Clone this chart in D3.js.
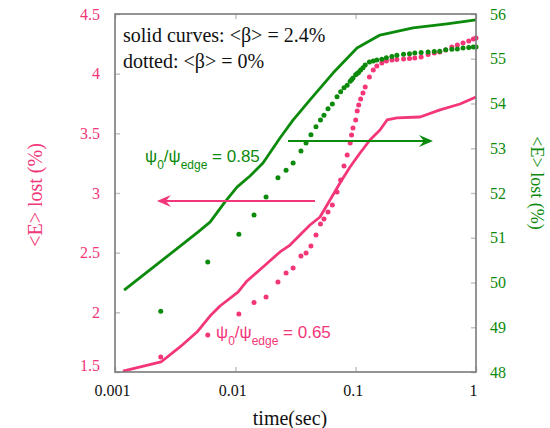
<!DOCTYPE html>
<html>
<head>
<meta charset="utf-8">
<script src="https://cdn.jsdelivr.net/npm/d3@7"></script>
<style>
  body { margin: 0; background: #fff; }
  svg text { font-family: "Liberation Serif", "Times New Roman", serif; }
</style>
</head>
<body>
<svg id="chart" width="550" height="428"></svg>
<script>
// tick values
const timeTicks = [0.001, 0.01, 0.1, 1];
const timeLabels = ["0.001", "0.01", "0.1", "1"];
const leftTicks = [1.5, 2, 2.5, 3, 3.5, 4, 4.5];
const rightTicks = [48, 49, 50, 51, 52, 53, 54, 55, 56];

// solid curves, <beta> = 2.4%
const tGreenSolid = [0.00119, 0.00237, 0.0048, 0.00616, 0.00821, 0.01032, 0.01324, 0.01698,
  0.0235, 0.03015, 0.04174, 0.06481, 0.1026, 0.1593, 0.2996, 0.5743, 1.0];
const eGreenSolid = [49.83, 50.46, 51.11, 51.35, 51.80, 52.13, 52.38, 52.67,
  53.23, 53.63, 54.08, 54.68, 55.24, 55.53, 55.69, 55.78, 55.87];

const tPinkSolid = [0.001165, 0.00241, 0.00347, 0.0048, 0.00616, 0.00746, 0.01052, 0.0125,
  0.01698, 0.0235, 0.02847, 0.03446, 0.04174, 0.05053, 0.06119, 0.0741, 0.08974, 0.1087,
  0.1315, 0.1593, 0.1822, 0.2206, 0.3425, 0.5023, 0.7366, 1.0];
const ePinkSolid = [1.508, 1.584, 1.710, 1.835, 1.969, 2.053, 2.170, 2.263,
  2.380, 2.506, 2.564, 2.648, 2.732, 2.799, 2.941, 3.084, 3.218, 3.335,
  3.444, 3.528, 3.612, 3.629, 3.637, 3.696, 3.746, 3.805];

// dotted, <beta> = 0%
const tDotted = [0.0024, 0.0059, 0.0107, 0.0143, 0.018, 0.0226, 0.0264, 0.0302, 0.0351, 0.0387,
  0.0425, 0.0468, 0.051, 0.0545, 0.0589, 0.064, 0.07, 0.075, 0.08, 0.085,
  0.09, 0.0925, 0.095, 0.1, 0.103, 0.106, 0.11, 0.115, 0.12, 0.13,
  0.14, 0.15, 0.165, 0.18, 0.2, 0.22, 0.25, 0.28, 0.31, 0.35,
  0.4, 0.45, 0.5, 0.56, 0.63, 0.7, 0.78, 0.87, 0.95, 1.0];
const eGreenDotted = [49.36, 50.46, 51.08, 51.51, 51.91, 52.34, 52.51, 52.67, 52.94, 53.12,
  53.30, 53.48, 53.63, 53.74, 53.88, 53.99, 54.15, 54.26, 54.35, 54.41,
  54.50, 54.53, 54.57, 54.64, 54.67, 54.70, 54.75, 54.80, 54.86, 54.93,
  54.95, 54.97, 54.99, 55.02, 55.05, 55.08, 55.10, 55.11, 55.13, 55.14,
  55.15, 55.16, 55.17, 55.20, 55.21, 55.22, 55.24, 55.25, 55.26, 55.26];
const ePinkDotted = [1.626, 1.810, 1.986, 2.082, 2.129, 2.254, 2.330, 2.372, 2.472, 2.497,
  2.556, 2.648, 2.740, 2.782, 2.841, 2.900, 3.008, 3.109, 3.226, 3.318,
  3.419, 3.486, 3.545, 3.612, 3.687, 3.737, 3.788, 3.838, 3.888, 3.972,
  4.031, 4.064, 4.089, 4.106, 4.115, 4.119, 4.123, 4.127, 4.131, 4.140,
  4.161, 4.173, 4.182, 4.198, 4.224, 4.240, 4.257, 4.274, 4.291, 4.299];

const pink = "#f33679", green = "#0b8a0b";
const box = { left: 115, right: 476, top: 14, bottom: 372 };

const svg = d3.select("#chart");

const x = d3.scaleLog().domain([0.001, 1]).range([box.left, box.right]);
const yL = d3.scaleLinear().domain([1.5, 4.5]).range([box.bottom, box.top]);
const yR = d3.scaleLinear().domain([48, 56]).range([box.bottom, box.top]);

function styleAxis(g, color, size) {
  g.select(".domain").remove();
  g.attr("font-family", "Liberation Serif, serif").attr("font-size", size);
  g.selectAll(".tick line").attr("stroke", "#c4c4c4").attr("stroke-width", 1.5);
  g.selectAll(".tick text").attr("fill", color);
}

svg.append("g")
  .attr("transform", "translate(" + box.left + ",0)")
  .call(d3.axisLeft(yL).tickValues(leftTicks).tickFormat(d3.format("~g")).tickSize(-5).tickPadding(15))
  .call((g) => styleAxis(g, pink, 16))
  .call((g) => g.selectAll(".tick text").filter((d) => d === 1.5).attr("dy", "-0.12em"));

svg.append("g")
  .attr("transform", "translate(" + box.right + ",0)")
  .call(d3.axisRight(yR).tickValues(rightTicks).tickSize(-5).tickPadding(14))
  .call((g) => styleAxis(g, green, 16));

svg.append("g")
  .attr("transform", "translate(0," + box.bottom + ")")
  .call(d3.axisBottom(x).tickValues(timeTicks).tickFormat((d, i) => timeLabels[i]).tickSize(-5).tickPadding(13))
  .call((g) => styleAxis(g, "#111", 16))
  .call((g) => g.selectAll(".tick text").attr("dx", "-3"));

svg.append("g")
  .attr("transform", "translate(0," + box.top + ")")
  .call(d3.axisTop(x).tickValues(timeTicks).tickFormat("").tickSize(-5))
  .call((g) => styleAxis(g, "#111", 16));

// curves
const lineOn = (ys) => d3.line().x((d) => x(d[0])).y((d) => ys(d[1]));

svg.append("path")
  .datum(d3.zip(tPinkSolid, ePinkSolid))
  .attr("d", lineOn(yL))
  .attr("fill", "none").attr("stroke", pink).attr("stroke-width", 2.8)
  .attr("stroke-linejoin", "round");

svg.append("path")
  .datum(d3.zip(tGreenSolid, eGreenSolid))
  .attr("d", lineOn(yR))
  .attr("fill", "none").attr("stroke", green).attr("stroke-width", 2.8)
  .attr("stroke-linejoin", "round");

svg.append("g").selectAll("circle")
  .data(d3.zip(tDotted, ePinkDotted))
  .join("circle")
  .attr("cx", (d) => x(d[0])).attr("cy", (d) => yL(d[1]))
  .attr("r", 2.5).attr("fill", pink);

svg.append("g").selectAll("circle")
  .data(d3.zip(tDotted, eGreenDotted))
  .join("circle")
  .attr("cx", (d) => x(d[0])).attr("cy", (d) => yR(d[1]))
  .attr("r", 2.5).attr("fill", green);

// frame
svg.append("rect")
  .attr("x", box.left).attr("y", box.top)
  .attr("width", box.right - box.left).attr("height", box.bottom - box.top)
  .attr("fill", "none").attr("stroke", "#7a7a7a").attr("stroke-width", 1.6);

// arrows
function arrow(x1, x2, y, color) {
  const dir = x2 > x1 ? 1 : -1;
  svg.append("line")
    .attr("x1", x1).attr("x2", x2 - dir * 6).attr("y1", y).attr("y2", y)
    .attr("stroke", color).attr("stroke-width", 2);
  svg.append("path")
    .attr("d", "M" + x2 + "," + y + "L" + (x2 - dir * 14) + "," + (y - 6) +
      "L" + (x2 - dir * 9) + "," + y + "L" + (x2 - dir * 14) + "," + (y + 6) + "Z")
    .attr("fill", color);
}
arrow(x(0.0274), x(0.439), yR(53.16), green);
arrow(x(0.0459), x(0.00223), yL(2.933), pink);

// texts
svg.append("text").attr("x", 123).attr("y", 42).attr("font-size", 20).attr("fill", "#111")
  .text("solid curves: <β> = 2.4%");
svg.append("text").attr("x", 123).attr("y", 68).attr("font-size", 20).attr("fill", "#111")
  .text("dotted: <β> = 0%");

function psiLabel(px, py, value, color) {
  const t = svg.append("text").attr("x", px).attr("y", py)
    .attr("fill", color).attr("font-size", 17)
    .style("font-family", "Liberation Sans, Arial, sans-serif");
  t.append("tspan").text("ψ");
  t.append("tspan").attr("font-size", 12).attr("dy", 7).text("0");
  t.append("tspan").attr("dy", -7).text("/ψ");
  t.append("tspan").attr("font-size", 12).attr("dy", 7).text("edge");
  t.append("tspan").attr("dy", -7).text(" = " + value);
}
psiLabel(145, 162, "0.85", green);
psiLabel(216, 338, "0.65", pink);

svg.append("text")
  .attr("transform", "translate(35,195) rotate(-90)")
  .attr("text-anchor", "middle").attr("dominant-baseline", "central")
  .attr("font-size", 20).attr("fill", pink)
  .text("<E> lost (%)");

svg.append("text")
  .attr("transform", "translate(537,183) rotate(90)")
  .attr("text-anchor", "middle").attr("dominant-baseline", "central")
  .attr("font-size", 18).attr("fill", green)
  .text("<E> lost (%)");

svg.append("text")
  .attr("x", 290).attr("y", 425).attr("text-anchor", "middle")
  .attr("font-size", 20).attr("fill", "#111")
  .text("time(sec)");
</script>
</body>
</html>
